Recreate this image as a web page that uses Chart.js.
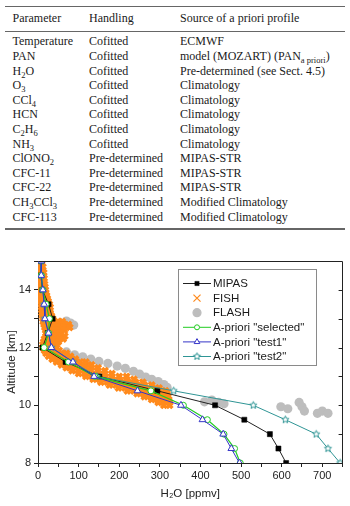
<!DOCTYPE html>
<html><head><meta charset="utf-8">
<script src="https://cdn.jsdelivr.net/npm/chart.js@4.4.0/dist/chart.umd.min.js"></script>
<style>
html,body{margin:0;padding:0;background:#fff;}
body{width:350px;height:506px;position:relative;overflow:hidden;font-family:"Liberation Serif","Times New Roman",serif;color:#1a1a1a;}
.rule{position:absolute;left:5px;width:340px;background:#666;}
.row{position:absolute;left:0;width:350px;height:15px;font-size:12px;line-height:15px;white-space:nowrap;}
.row span{position:absolute;top:0;}
.c1{left:12.5px}.c2{left:89px}.c3{left:180px}
sub{font-size:8.5px;vertical-align:-2.5px;line-height:0}
#wrap{position:absolute;left:0;top:240px;width:350px;height:266px;}
</style></head>
<body>
<div id="table"></div>
<div id="wrap"><canvas id="c"></canvas></div>
<script>
// ---------- table data ----------
const tableHeader = ['Parameter', 'Handling', 'Source of a priori profile'];
const tableParams = ['Temperature','PAN','H<sub>2</sub>O','O<sub>3</sub>','CCl<sub>4</sub>','HCN','C<sub>2</sub>H<sub>6</sub>','NH<sub>3</sub>','ClONO<sub>2</sub>','CFC-11','CFC-22','CH<sub>3</sub>CCl<sub>3</sub>','CFC-113'];
const tableHandling = ['Cofitted','Cofitted','Cofitted','Cofitted','Cofitted','Cofitted','Cofitted','Cofitted','Pre-determined','Pre-determined','Pre-determined','Pre-determined','Pre-determined'];
const tableSource = ['ECMWF','model (MOZART) (PAN<sub>a priori</sub>)','Pre-determined (see Sect. 4.5)','Climatology','Climatology','Climatology','Climatology','Climatology','MIPAS-STR','MIPAS-STR','MIPAS-STR','Modified Climatology','Modified Climatology'];

// ---------- chart data ----------
const altitudes = [15,14.5,14,13.5,13,12.5,12,11.5,11,10.5,10,9.5,9,8.5,8];
const mipas = [8,7,11,26,36,24,11,68,151,294,436,508,571,592,611];
const aprioriSelected = [8,8,12,20,28,26,15,75,140,278,358,417,458,484,498];
const aprioriTest1 = [8,8,12,15,17,26,33,86,138,245,352,405,456,476,496];
const aprioriTest2 = [8,8,12,15,17,26,33,86,145,334,530,609,685,714,744];
// FISH measurements: [altitude, [H2O values at that altitude]]
const fishRows = [
 [15.0,[1,7]],[14.9,[2,9]],[14.8,[1,6,12]],[14.7,[2,9]],[14.6,[3,9,14]],[14.5,[2,8,13]],
 [14.4,[3,10,15]],[14.3,[3,9,14]],[14.2,[4,11,16]],[14.1,[4,11,17]],[14.0,[4,11,18]],
 [13.9,[5,12,19]],[13.8,[5,13,21]],[13.7,[6,15,23]],[13.6,[7,16,25]],[13.5,[8,18,28]],
 [13.4,[9,19,30]],[13.3,[9,18,28]],[13.2,[10,20,30]],[13.1,[11,22,33]],[13.0,[12,24,36]],
 [12.9,[13,25,37,49,60]],[12.8,[15,27,39,51,63,75]],[12.7,[17,29,41,53,65,78]],
 [12.6,[19,31,43,55,65]],[12.5,[20,32,44,56]],[12.4,[20,32,44,56,66]],[12.3,[16,28,40,52,62]],
 [12.2,[14,26,38,50]],[12.1,[12,24,36,46]],[12.0,[12,24,36]],
 [11.9,[16,28,40,52]],[11.8,[20,32,45,58,70]],[11.7,[26,38,52,66,80]],[11.6,[35,48,62,76,92]],
 [11.5,[46,60,74,88,104,118]],[11.4,[58,72,86,100,116,132]],[11.3,[70,85,100,115,130,148]],
 [11.2,[84,99,114,130,146,165]],[11.1,[100,115,130,146,163,182]],
 [11.0,[118,133,148,164,181,200,218]],[10.9,[136,151,167,183,200,218,236]],
 [10.8,[155,171,187,204,222,240,258]],[10.7,[176,192,209,226,244,262,280]],
 [10.6,[198,214,231,248,265,282,298]],[10.5,[220,236,252,268,284,300,314]],
 [10.4,[244,259,274,289,304,318]],[10.3,[262,277,292,306,320]],[10.2,[280,294,308,322]],
 [10.1,[296,310,324]],[10.0,[310,324]]
];
// FLASH measurements: [H2O, altitude]
const flashPoints = [
 [70,12.92],[80,12.85],[88,12.78],
 [70,11.85],[90,11.75],[110,11.68],[130,11.6],[150,11.52],[172,11.45],[195,11.36],[215,11.28],
 [235,11.18],[250,11.08],[265,10.98],[280,10.9],[296,10.82],[310,10.72],[318,10.62],
 [410,10.12],[428,10.18],[445,10.1],[458,10.05],
 [598,9.95],[615,9.88],[643,10.1],[650,9.95],[656,9.8],[688,9.72],[700,9.8],[714,9.72]
];
const seriesLabels = ['MIPAS','FISH','FLASH','A-priori "selected"','A-priori "test1"','A-priori "test2"'];
const xTitle = 'H\u2082O [ppmv]';
const yTitle = 'Altitude [km]';

// ---------- build table ----------
(function(){
  const t = document.getElementById('table');
  let h = '<div class="rule" style="top:6px;height:1px"></div>';
  h += '<div class="row" style="top:11px"><span class="c1">'+tableHeader[0]+'</span><span class="c2">'+tableHeader[1]+'</span><span class="c3">'+tableHeader[2]+'</span></div>';
  h += '<div class="rule" style="top:31px;height:1px"></div>';
  for (let i=0;i<tableParams.length;i++){
    const top = 34.4 + i*14.6;
    h += '<div class="row" style="top:'+top+'px"><span class="c1">'+tableParams[i]+'</span><span class="c2">'+tableHandling[i]+'</span><span class="c3">'+tableSource[i]+'</span></div>';
  }
  h += '<div class="rule" style="top:228px;height:2px"></div>';
  t.innerHTML = h;
})();

// ---------- chart ----------
function makeStar(color, r){
  const s = Math.ceil(r*2+3);
  const c = document.createElement('canvas'); c.width=s; c.height=s;
  const g = c.getContext('2d');
  g.beginPath();
  for (let i=0;i<10;i++){
    const a = -Math.PI/2 + i*Math.PI/5;
    const rr = (i%2) ? r*0.45 : r;
    g.lineTo(s/2 + rr*Math.cos(a), s/2 + rr*Math.sin(a));
  }
  g.closePath(); g.fillStyle='#fff'; g.fill();
  g.strokeStyle=color; g.lineWidth=1; g.stroke();
  return c;
}
const C_MIPAS='#222222', C_FISH='#ff8a1c', C_FLASH='#bdbdbd', C_SEL='#22cc22', C_T1='#3535c8', C_T2='#2f9595';
const starImg = makeStar(C_T2, 3.8);

const pts = (vals) => vals.map((v,i)=>({x:v, y:altitudes[i]}));
const fishData = [];
fishRows.forEach(r => r[1].forEach(v => fishData.push({x:v, y:r[0]})));
const flashData = flashPoints.map(p=>({x:p[0], y:p[1]}));

const datasets = [
  {label:seriesLabels[0], data:pts(mipas), showLine:true, borderColor:C_MIPAS, borderWidth:1,
   pointStyle:'rect', pointRadius:3.6, pointBackgroundColor:'#000', pointBorderColor:'#000', pointBorderWidth:0.5, order:4},
  {label:seriesLabels[1], data:fishData, showLine:false, pointStyle:'crossRot', pointRadius:4,
   pointBorderColor:C_FISH, pointBorderWidth:3.4, order:5},
  {label:seriesLabels[2], data:flashData, showLine:false, pointStyle:'circle', pointRadius:4.6,
   pointBackgroundColor:C_FLASH, pointBorderColor:C_FLASH, pointBorderWidth:0, order:6},
  {label:seriesLabels[3], data:pts(aprioriSelected), showLine:true, borderColor:C_SEL, borderWidth:1.2,
   pointStyle:'circle', pointRadius:3, pointBackgroundColor:'#fff', pointBorderColor:C_SEL, pointBorderWidth:1, order:2},
  {label:seriesLabels[4], data:pts(aprioriTest1), showLine:true, borderColor:C_T1, borderWidth:1,
   pointStyle:'triangle', pointRadius:3.9, pointBackgroundColor:'#fff', pointBorderColor:C_T1, pointBorderWidth:1, order:1},
  {label:seriesLabels[5], data:pts(aprioriTest2), showLine:true, borderColor:C_T2, borderWidth:1,
   pointStyle:starImg, pointRadius:4, order:3}
];

const framePlugin = {
  id:'frame',
  afterDatasetsDraw(chart){
    const {ctx, chartArea:a, scales} = chart;
    ctx.save();
    ctx.strokeStyle='#222'; ctx.lineWidth=1;
    ctx.beginPath();
    ctx.moveTo(Math.round(a.left)+0.5, Math.round(a.top)+0.5);
    ctx.lineTo(Math.round(a.right)-0.5, Math.round(a.top)+0.5);
    ctx.lineTo(Math.round(a.right)-0.5, Math.round(a.bottom));
    ctx.stroke();
    for (let v=9; v<=14; v++){
      const y = Math.round(scales.y.getPixelForValue(v))+0.5;
      ctx.beginPath(); ctx.moveTo(a.right, y); ctx.lineTo(a.right-4, y); ctx.stroke();
    }
    ctx.restore();
  }
};
const legendPlugin = {
  id:'boxLegend',
  afterDraw(chart){
    const ctx = chart.ctx;
    const bx=178, by=29, bw=138, bh=96;
    ctx.save();
    ctx.fillStyle='#fff'; ctx.fillRect(bx,by,bw,bh);
    ctx.strokeStyle='#8a8a8a'; ctx.lineWidth=1; ctx.strokeRect(bx+0.5,by+0.5,bw,bh);
    ctx.font='11.5px "Liberation Sans", Arial, sans-serif';
    ctx.textBaseline='middle'; ctx.textAlign='left';
    chart.data.datasets.forEach((ds,i)=>{
      const y = by + 14.5 + i*14.6;
      if (ds.showLine){
        ctx.strokeStyle = ds.borderColor; ctx.lineWidth = 1;
        ctx.beginPath(); ctx.moveTo(183, y); ctx.lineTo(211, y); ctx.stroke();
      }
      ctx.fillStyle = ds.pointBackgroundColor || '#fff';
      ctx.strokeStyle = ds.pointBorderColor || ds.borderColor;
      ctx.lineWidth = ds.pointBorderWidth != null ? ds.pointBorderWidth : 1;
      let r = ds.pointRadius;
      if (ds.pointStyle === 'crossRot') { r = 5; ctx.lineWidth = 1.2; }
      if (ds.pointStyle === 'rect') r = 3;
      if (ds.pointStyle === 'triangle') r = 3.3;
      if (ds.pointStyle === 'circle' && i===2) r = 4;
      if (ds.pointStyle === 'circle' && i===3) r = 2.5;
      Chart.helpers.drawPoint(ctx, {pointStyle:ds.pointStyle, radius:r, rotation:0, borderWidth:ctx.lineWidth}, 197, y);
      ctx.fillStyle='#1a1a1a';
      ctx.fillText(ds.label, 213, y+0.5);
    });
    ctx.restore();
  }
};

const tickFont = {family:'"Liberation Sans", Arial, sans-serif', size:11};
new Chart(document.getElementById('c'), {
  type:'scatter',
  data:{datasets},
  options:{
    responsive:true, maintainAspectRatio:false, animation:false,
    layout:{padding:{top:21, right:3, left:0, bottom:0}},
    plugins:{legend:{display:false}, tooltip:{enabled:false}},
    scales:{
      x:{type:'linear', min:0, max:750,
         ticks:{stepSize:50, autoSkip:false, maxRotation:0, padding:2, color:'#222', font:tickFont,
                callback:v => (v%100===0 ? String(v) : '')},
         grid:{drawOnChartArea:false, drawTicks:true, tickLength:4, color:'#222'},
         border:{display:true, color:'#222', width:1},
         title:{display:true, text:xTitle, color:'#222', font:{family:'"Liberation Sans", "DejaVu Sans", Arial, sans-serif', size:11.5}, padding:{top:0,bottom:5}},
         afterFit(s){ s.height = 43; }
      },
      y:{type:'linear', min:8, max:15,
         ticks:{stepSize:1, autoSkip:false, padding:3, color:'#222', font:tickFont,
                callback:v => (v%2===0 ? String(v) : '')},
         grid:{drawOnChartArea:false, drawTicks:true, tickLength:4, color:'#222'},
         border:{display:true, color:'#222', width:1},
         title:{display:true, text:yTitle, color:'#222', font:{family:'"Liberation Sans", Arial, sans-serif', size:11.5}, padding:{top:5,bottom:0}},
         afterFit(s){ s.width = 38; }
      }
    }
  },
  plugins:[framePlugin, legendPlugin]
});
</script>
</body></html>
